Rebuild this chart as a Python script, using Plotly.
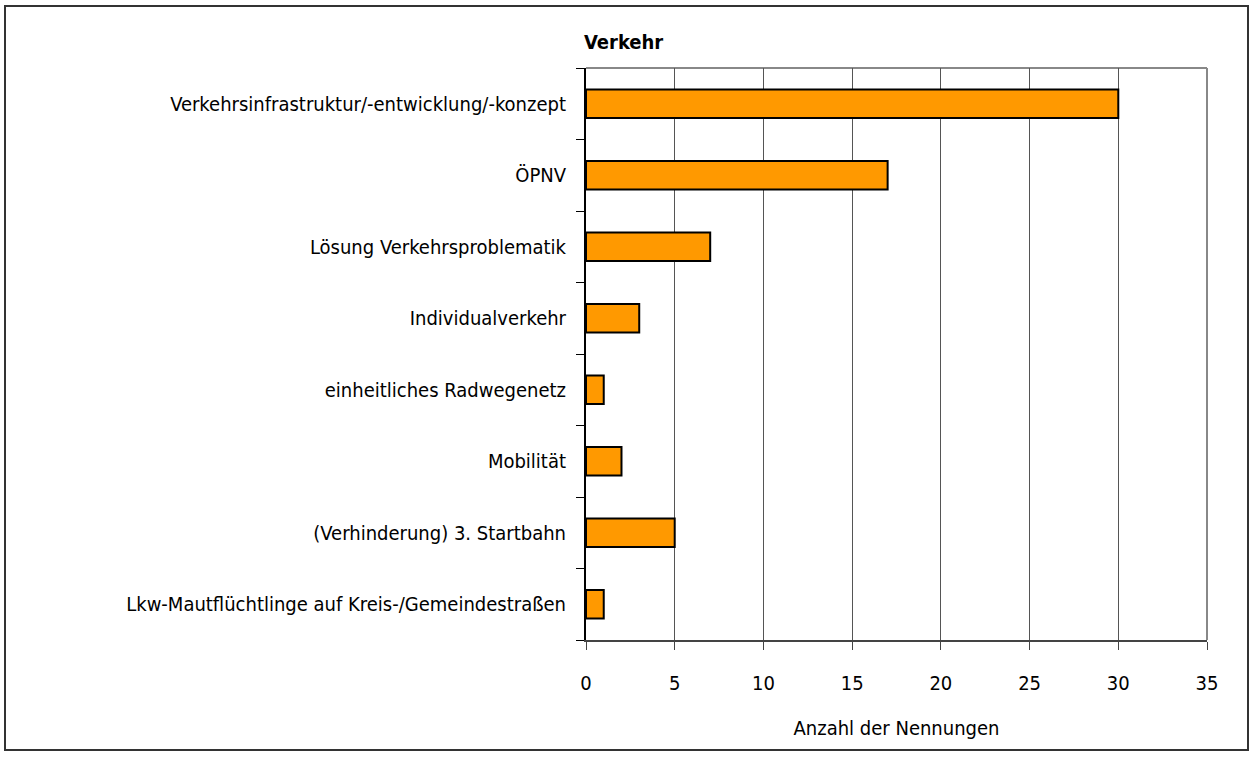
import plotly.graph_objects as go

categories = [
    "Verkehrsinfrastruktur/-entwicklung/-konzept",
    "ÖPNV",
    "Lösung Verkehrsproblematik",
    "Individualverkehr",
    "einheitliches Radwegenetz",
    "Mobilität",
    "(Verhinderung) 3. Startbahn",
    "Lkw-Mautflüchtlinge auf Kreis-/Gemeindestraßen",
]
values = [30, 17, 7, 3, 1, 2, 5, 1]
x_ticks = [0, 5, 10, 15, 20, 25, 30, 35]

FONT = "DejaVu Sans Condensed, Liberation Sans Narrow, Roboto Condensed, Arial Narrow, sans-serif"

W, H = 1253, 760
L, T = 586, 68
R = W - 1207
B = H - 640
pw, ph = W - L - R, H - T - B

def px(xpage):
    return (xpage - L) / pw

def py(ypage):
    return (H - B - ypage) / ph

fig = go.Figure()
fig.add_trace(go.Bar(
    x=values, y=categories, orientation="h", width=0.4,
    marker=dict(color="#FF9900", line=dict(color="#000000", width=2)),
    hoverinfo="x+y",
))

fig.update_layout(
    width=W, height=H,
    margin=dict(l=L, r=R, t=T, b=B),
    paper_bgcolor="white", plot_bgcolor="white",
    font=dict(family=FONT, size=20, color="#000000"),
    showlegend=False,
    xaxis=dict(
        range=[0, 35], tickvals=x_ticks, ticktext=[str(v) for v in x_ticks],
        showgrid=True, gridcolor="#555555", gridwidth=1,
        showline=True, linecolor="#444444", linewidth=2,
        ticks="outside", ticklen=8, tickcolor="#444444",
        ticklabelstandoff=16,
        zeroline=False, fixedrange=True,
        title=dict(text="Anzahl der Nennungen", standoff=27, font=dict(size=20)),
        tickfont=dict(size=20),
    ),
    yaxis=dict(
        categoryorder="array", categoryarray=categories[::-1],
        showline=True, linecolor="#000000", linewidth=2,
        ticks="outside", ticklen=8, tickcolor="#000000", tickson="boundaries",
        showgrid=False, zeroline=False, fixedrange=True,
        ticklabelstandoff=14,
        tickfont=dict(size=20),
    ),
    shapes=[
        dict(type="line", xref="paper", yref="paper", x0=0, x1=1, y0=1, y1=1,
             line=dict(color="#888888", width=2), layer="below"),
        dict(type="line", xref="paper", yref="paper", x0=1, x1=1, y0=0, y1=1,
             line=dict(color="#888888", width=2), layer="below"),
        dict(type="rect", xref="paper", yref="paper",
             x0=px(5), x1=px(1248), y0=py(750), y1=py(6),
             line=dict(color="#333333", width=2), fillcolor="rgba(0,0,0,0)"),
    ],
    annotations=[
        dict(text="<b>Verkehr</b>", xref="paper", yref="paper",
             x=px(582), y=py(42), xanchor="left", yanchor="middle",
             showarrow=False, font=dict(size=20, color="#000000")),
    ],
)

fig.write_html(
    "out.html",
    config={"displayModeBar": False},
    post_script="document.body.style.margin='0';document.body.style.overflow='hidden';",
)
